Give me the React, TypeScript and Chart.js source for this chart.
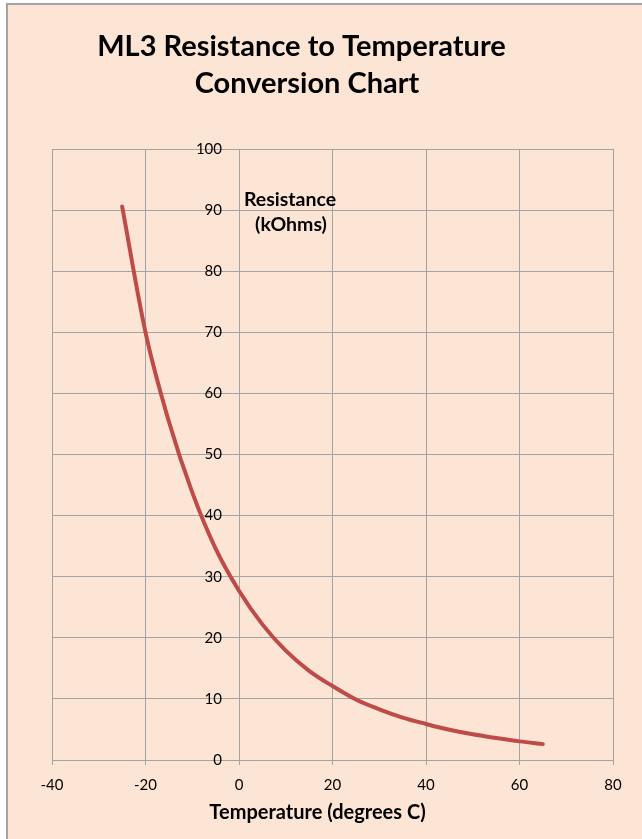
import React, { useEffect, useRef } from "react";
import { Chart, registerables } from "chart.js";

Chart.register(...registerables);

const temperatures = [-25, -20, -15, -10, -5, 0, 5, 10, 15, 20, 25, 30, 35, 40, 45, 50, 55, 60, 65];
const resistances = [90.6, 70.0, 55.4, 43.8, 34.6, 27.7, 22.2, 17.9, 14.6, 12.1, 9.9, 8.3, 6.95, 5.9, 4.95, 4.2, 3.6, 3.05, 2.6];

const titleLines = ["ML3 Resistance to Temperature", "Conversion Chart"];
const yLabelLines = ["Resistance", "(kOhms)"];
const xTitle = "Temperature (degrees C)";

const xMin = -40, xMax = 80, xStep = 20;
const yMin = 0, yMax = 100, yStep = 10;

const FONT = "Lato, 'Open Sans', sans-serif";
const PEACH = "#FDE5D5";
const GRID = "#A3A3A3";

const decor = {
  id: "decor",
  beforeDraw(chart: any) {
    const { ctx, width, height } = chart;
    ctx.save();
    ctx.fillStyle = "#ffffff";
    ctx.fillRect(0, 0, width, height);
    ctx.fillStyle = PEACH;
    ctx.fillRect(7, 3, width - 7, height - 3);
    ctx.strokeStyle = GRID;
    ctx.lineWidth = 2;
    ctx.beginPath();
    ctx.moveTo(7, height);
    ctx.lineTo(7, 4);
    ctx.lineTo(width, 4);
    ctx.stroke();
    ctx.restore();
  },
  afterDraw(chart: any) {
    const { ctx } = chart;
    const ys = chart.scales.y;
    const xs = chart.scales.x;
    const axisX = xs.getPixelForValue(0);
    ctx.save();
    ctx.fillStyle = "#000000";
    ctx.font = `15px ${FONT}`;
    ctx.textAlign = "right";
    ctx.textBaseline = "middle";
    ys.ticks.forEach((t: any) => {
      ctx.fillText(String(t.value), axisX - 17, ys.getPixelForValue(t.value));
    });
    ctx.textAlign = "center";
    ctx.font = `bold 29px ${FONT}`;
    ctx.fillText(titleLines[0], 301.5, 47);
    ctx.fillText(titleLines[1], 307, 83.5);
    ctx.font = `bold 19.5px ${FONT}`;
    ctx.fillText(yLabelLines[0], 290, 199.5);
    ctx.fillText(yLabelLines[1], 291, 225);
    ctx.font = `bold 20px ${FONT}`;
    ctx.fillText(xTitle, 317.5, 813);
    ctx.restore();
  },
};

export default function App() {
  const ref = useRef<HTMLCanvasElement | null>(null);
  useEffect(() => {
    if (!ref.current) return;
    const chart = new Chart(ref.current, {
      type: "line",
      data: {
        datasets: [
          {
            data: temperatures.map((t, i) => ({ x: t, y: resistances[i] })),
            borderColor: "#BE4B48",
            borderWidth: 4,
            pointRadius: 0,
            borderCapStyle: "round",
            cubicInterpolationMode: "monotone",
            fill: false,
          },
        ],
      },
      options: {
        animation: false,
        responsive: false,
        devicePixelRatio: 1,
        layout: { padding: { left: 52, right: 29, top: 149, bottom: 0 } },
        plugins: { legend: { display: false }, tooltip: { enabled: false }, title: { display: false } },
        scales: {
          x: {
            type: "linear",
            position: "bottom",
            min: xMin,
            max: xMax,
            afterFit: (s: any) => { s.height = 79; },
            ticks: {
              stepSize: xStep,
              padding: 11,
              color: "#000",
              font: { family: FONT, size: 15 },
              maxRotation: 0,
            },
            grid: { color: GRID, lineWidth: 1, tickLength: 5, drawTicks: true },
            border: { display: true, color: GRID, width: 1 },
          },
          y: {
            type: "linear",
            position: { x: 0 } as any,
            min: yMin,
            max: yMax,
            ticks: {
              stepSize: yStep,
              display: false,
              font: { family: FONT, size: 15 },
            },
            grid: { color: GRID, lineWidth: 1, tickLength: 17, drawTicks: true },
            border: { display: true, color: GRID, width: 1 },
          },
        },
      },
      plugins: [decor],
    } as any);
    return () => chart.destroy();
  }, []);
  return (
    <div style={{ position: "fixed", left: 0, top: 0, width: 642, height: 839 }}>
      <canvas ref={ref} width={642} height={839} style={{ display: "block", width: 642, height: 839 }} />
    </div>
  );
}
